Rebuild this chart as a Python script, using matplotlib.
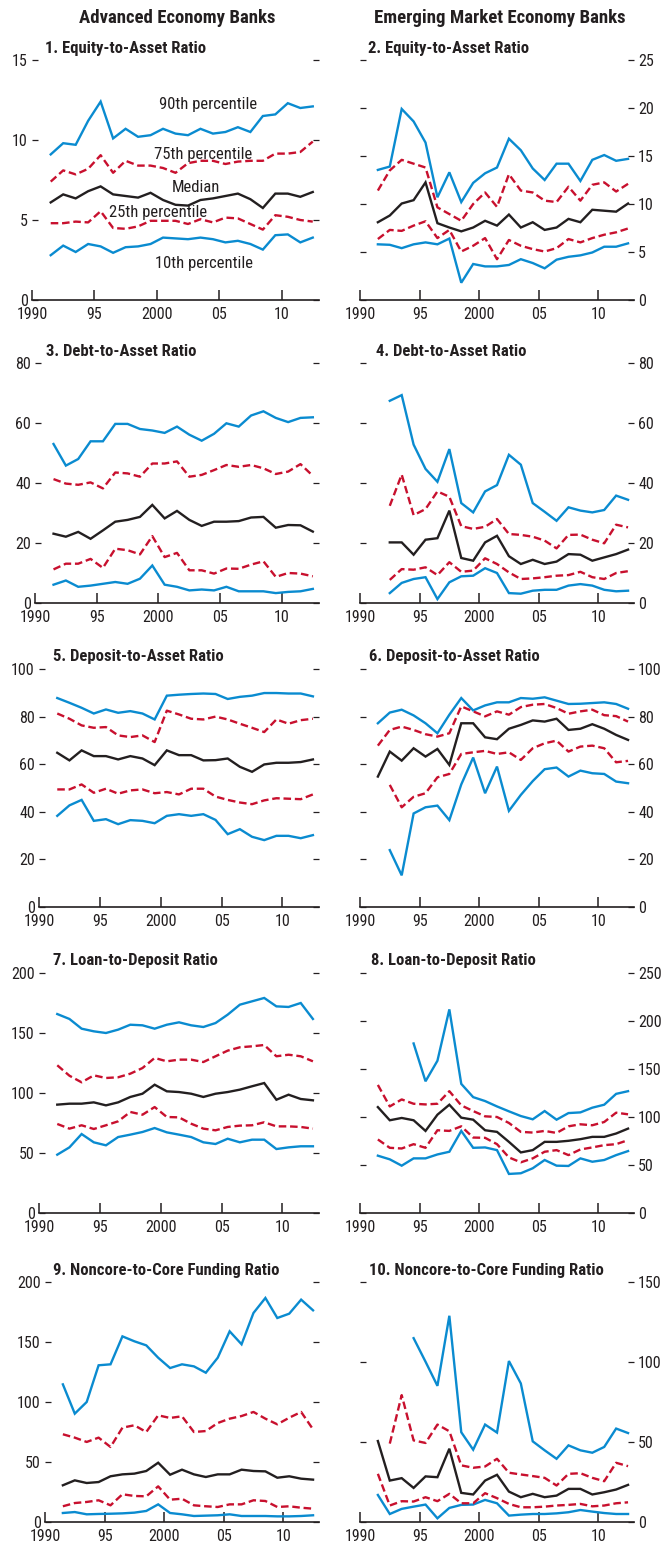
import numpy as np
import matplotlib
matplotlib.use("Agg")
import matplotlib.pyplot as plt
from matplotlib import font_manager as fm

NA = np.nan
years = list(range(1991, 2013))

# ---------------- data ----------------
ae_eq_p90 = [9.1, 9.8, 9.7, 11.2, 12.4, 10.1, 10.7, 10.2, 10.3, 10.7, 10.4, 10.3, 10.7, 10.4, 10.5, 10.8, 10.5, 11.5, 11.6, 12.3, 12.0, 12.1]
ae_eq_p75 = [7.4, 8.1, 7.85, 8.2, 9.05, 7.95, 8.7, 8.4, 8.4, 8.25, 7.95, 8.55, 8.7, 8.7, 8.5, 8.65, 8.7, 8.7, 9.15, 9.15, 9.25, 9.9]
ae_eq_p50 = [6.1, 6.6, 6.35, 6.8, 7.1, 6.6, 6.5, 6.4, 6.7, 6.25, 5.95, 5.9, 6.25, 6.35, 6.5, 6.65, 6.3, 5.75, 6.65, 6.65, 6.45, 6.75]
ae_eq_p25 = [4.8, 4.8, 4.9, 4.85, 5.55, 4.5, 4.45, 4.6, 4.95, 4.95, 4.95, 4.75, 5.05, 4.85, 5.15, 5.1, 4.75, 4.4, 5.3, 5.2, 5.0, 4.9]
ae_eq_p10 = [2.8, 3.4, 3.0, 3.5, 3.35, 2.95, 3.3, 3.35, 3.5, 3.9, 3.85, 3.8, 3.9, 3.8, 3.6, 3.7, 3.5, 3.15, 4.05, 4.1, 3.6, 3.9]

em_eq_p90 = [13.55, 13.9, 19.9, 18.6, 16.4, 10.7, 13.3, 10.2, 12.2, 13.2, 13.8, 16.8, 15.6, 13.7, 12.5, 14.2, 14.2, 12.4, 14.6, 15.1, 14.5, 14.7]
em_eq_p75 = [11.4, 13.5, 14.6, 14.2, 13.8, 9.65, 8.95, 8.25, 10.0, 11.2, 9.7, 13.1, 11.4, 11.2, 10.35, 10.2, 11.8, 10.35, 12.0, 12.25, 11.3, 12.1]
em_eq_p50 = [8.1, 8.8, 10.05, 10.4, 12.25, 8.0, 7.55, 7.15, 7.55, 8.25, 7.75, 8.9, 7.55, 8.1, 7.3, 7.55, 8.45, 8.1, 9.4, 9.3, 9.2, 10.05]
em_eq_p25 = [6.35, 7.3, 7.2, 7.75, 8.2, 6.45, 7.3, 5.05, 5.65, 6.45, 4.25, 6.25, 5.65, 5.3, 5.05, 5.4, 6.35, 6.0, 6.45, 6.8, 7.05, 7.45]
em_eq_p10 = [5.8, 5.75, 5.4, 5.8, 6.0, 5.8, 6.4, 1.8, 3.75, 3.5, 3.5, 3.65, 4.25, 3.85, 3.3, 4.2, 4.5, 4.65, 4.95, 5.55, 5.55, 5.9]

ae_debt_p90 = [53.0, 45.8, 48.0, 53.9, 53.9, 59.7, 59.7, 58.0, 57.5, 56.7, 58.8, 56.1, 54.1, 56.4, 59.9, 58.8, 62.5, 63.9, 61.7, 60.3, 61.7, 61.9]
ae_debt_p75 = [41.3, 39.8, 39.4, 40.2, 38.2, 43.5, 43.2, 42.1, 46.5, 46.5, 47.2, 42.1, 42.7, 44.3, 46.0, 45.4, 46.0, 44.9, 43.0, 43.8, 46.3, 42.4]
ae_debt_p50 = [23.1, 22.1, 23.7, 21.4, 24.2, 27.1, 27.7, 28.7, 32.7, 28.2, 30.7, 27.7, 25.7, 27.1, 27.1, 27.3, 28.5, 28.7, 25.1, 26.0, 25.9, 23.8]
ae_debt_p25 = [11.2, 13.1, 13.1, 14.7, 11.7, 18.1, 17.6, 16.2, 22.3, 15.3, 16.7, 10.9, 10.9, 9.8, 11.5, 11.4, 12.8, 13.9, 8.7, 10.0, 9.8, 8.9]
ae_debt_p10 = [6.1, 7.5, 5.4, 5.8, 6.4, 7.0, 6.4, 8.1, 12.5, 6.1, 5.4, 4.2, 4.5, 4.2, 5.4, 3.9, 3.9, 3.9, 3.3, 3.7, 3.9, 4.7]

em_debt_p90 = [NA, 67.4, 69.3, 52.8, 44.7, 40.4, 51.3, 33.3, 30.2, 37.2, 39.3, 49.4, 46.1, 33.3, 30.4, 27.4, 31.9, 30.8, 30.2, 31.0, 35.8, 34.4]
em_debt_p75 = [NA, 32.4, 42.8, 29.3, 31.3, 37.2, 35.4, 25.6, 24.7, 25.4, 28.0, 23.0, 22.7, 22.1, 20.8, 18.2, 22.7, 22.8, 21.1, 19.9, 26.1, 25.2]
em_debt_p50 = [NA, 20.2, 20.2, 16.1, 21.1, 21.6, 30.8, 15.0, 14.1, 20.2, 22.4, 15.6, 13.0, 14.4, 13.0, 13.8, 16.3, 16.1, 14.1, 15.2, 16.3, 17.8]
em_debt_p25 = [NA, 7.7, 11.3, 11.1, 11.9, 9.3, 13.6, 10.4, 10.8, 14.9, 13.0, 10.2, 8.0, 8.2, 8.6, 9.1, 9.3, 10.4, 8.6, 8.0, 10.0, 10.6]
em_debt_p10 = [NA, 3.3, 6.7, 8.0, 8.6, 1.3, 6.9, 8.9, 9.1, 11.6, 10.0, 3.3, 3.1, 4.1, 4.4, 4.4, 5.8, 6.3, 5.8, 4.4, 3.9, 4.1]

ae_dep_p90 = [87.8, 85.8, 83.7, 81.3, 83.0, 81.6, 82.3, 81.3, 78.8, 88.8, 89.2, 89.5, 89.7, 89.5, 87.4, 88.3, 88.8, 89.9, 89.9, 89.7, 89.7, 88.5]
ae_dep_p75 = [81.3, 79.1, 76.3, 75.3, 75.6, 72.1, 71.4, 72.1, 69.3, 82.5, 80.9, 79.1, 78.8, 80.0, 78.8, 77.0, 75.3, 73.5, 78.8, 77.0, 78.5, 79.1]
ae_dep_p50 = [64.8, 61.6, 65.8, 63.4, 63.4, 62.0, 63.4, 62.4, 59.6, 65.8, 63.8, 63.8, 61.6, 61.7, 62.4, 58.9, 56.8, 59.9, 60.6, 60.6, 60.9, 62.0]
ae_dep_p25 = [49.4, 49.4, 51.5, 48.0, 49.7, 47.6, 49.0, 49.4, 47.8, 48.3, 47.3, 49.7, 49.7, 46.4, 45.0, 43.9, 43.2, 44.8, 45.7, 45.5, 45.3, 47.3]
ae_dep_p10 = [38.3, 42.7, 45.0, 36.2, 36.9, 34.8, 36.5, 36.2, 35.2, 38.3, 39.0, 38.3, 39.0, 36.6, 30.6, 32.7, 29.5, 28.1, 29.9, 29.9, 28.9, 30.2]

em_dep_p90 = [77.2, 81.7, 82.9, 80.5, 77.2, 73.0, 80.8, 87.8, 82.6, 84.7, 86.0, 86.0, 87.8, 87.5, 88.1, 86.7, 85.3, 85.4, 85.7, 86.0, 85.3, 83.3]
em_dep_p75 = [67.8, 74.4, 75.8, 74.4, 72.6, 71.6, 73.0, 84.3, 82.2, 80.1, 82.2, 80.8, 84.0, 85.0, 85.3, 83.6, 81.2, 82.2, 82.9, 80.6, 80.2, 77.9]
em_dep_p50 = [54.8, 65.3, 61.5, 66.7, 63.2, 66.4, 59.7, 77.2, 77.2, 71.3, 70.5, 74.9, 76.5, 78.4, 77.9, 79.1, 74.4, 74.9, 76.8, 74.9, 72.3, 70.2]
em_dep_p25 = [NA, 51.3, 41.9, 46.3, 47.8, 54.5, 55.9, 64.3, 65.0, 65.6, 64.3, 65.0, 61.8, 66.7, 68.8, 69.9, 65.3, 67.4, 67.8, 66.7, 60.8, 61.4]
em_dep_p10 = [NA, 23.9, 13.3, 39.3, 41.9, 42.6, 36.5, 51.5, 62.8, 47.8, 59.0, 40.4, 47.1, 52.9, 57.9, 58.6, 54.8, 57.3, 56.2, 55.9, 52.7, 52.0]

ae_ltd_p90 = [165.8, 161.7, 153.6, 151.4, 150.0, 152.8, 156.9, 156.4, 153.6, 156.9, 158.9, 156.4, 155.0, 158.3, 165.3, 173.6, 176.4, 179.2, 172.2, 171.7, 175.0, 161.7]
ae_ltd_p75 = [123.1, 114.4, 108.9, 114.7, 112.5, 113.1, 116.1, 120.8, 129.2, 126.4, 127.8, 127.8, 125.8, 130.6, 135.3, 138.1, 138.9, 140.0, 130.6, 131.9, 130.6, 126.4]
ae_ltd_p50 = [90.3, 91.1, 91.1, 92.2, 89.7, 92.2, 96.7, 99.4, 106.9, 101.4, 100.8, 99.4, 96.7, 99.4, 100.8, 102.8, 105.6, 108.3, 94.4, 98.6, 95.0, 93.9]
ae_ltd_p25 = [74.2, 70.3, 73.1, 70.0, 73.1, 76.4, 84.2, 81.9, 88.3, 80.0, 79.7, 74.4, 70.3, 68.9, 71.7, 72.8, 73.1, 75.6, 72.2, 72.2, 71.7, 70.3]
ae_ltd_p10 = [48.6, 54.7, 65.8, 58.9, 56.4, 63.3, 65.3, 67.5, 70.8, 67.2, 65.3, 63.3, 58.9, 57.5, 61.9, 58.9, 61.1, 61.1, 53.3, 54.7, 55.6, 55.6]

em_ltd_p90 = [NA, NA, NA, 176.6, 137.2, 158.6, 212.1, 134.5, 120.7, 116.6, 111.0, 105.9, 101.0, 97.6, 106.2, 97.2, 104.1, 104.8, 109.7, 112.8, 124.1, 126.9]
em_ltd_p75 = [133.4, 111.0, 118.3, 113.8, 113.1, 113.8, 126.9, 112.1, 106.2, 100.7, 100.0, 93.8, 84.5, 83.8, 85.5, 83.4, 90.3, 92.4, 91.4, 94.8, 104.5, 102.8]
em_ltd_p50 = [110.3, 96.6, 99.0, 96.6, 85.5, 102.4, 112.8, 99.3, 97.2, 86.2, 84.5, 74.1, 63.1, 65.5, 74.1, 74.1, 75.2, 76.9, 79.3, 79.3, 82.8, 87.9]
em_ltd_p25 = [76.6, 67.9, 67.2, 71.7, 67.9, 86.2, 85.5, 90.3, 78.6, 78.3, 71.7, 57.9, 52.8, 56.9, 63.8, 65.5, 60.3, 66.2, 68.3, 70.7, 71.7, 75.9]
em_ltd_p10 = [59.7, 55.9, 49.3, 56.9, 56.9, 61.0, 63.8, 85.5, 67.9, 68.3, 65.5, 40.7, 41.4, 46.6, 55.2, 49.3, 49.0, 56.9, 53.4, 55.2, 60.3, 64.5]

ae_nc_p90 = [114.7, 90.3, 100.0, 130.6, 131.4, 154.7, 150.6, 147.2, 136.9, 128.3, 131.4, 129.7, 124.4, 136.9, 158.9, 148.1, 174.2, 186.7, 170.0, 173.6, 185.3, 176.4]
ae_nc_p75 = [73.1, 70.3, 66.7, 70.3, 62.5, 78.6, 80.6, 75.0, 88.9, 86.7, 88.1, 75.0, 75.8, 82.5, 86.1, 88.3, 91.7, 86.1, 81.4, 86.9, 91.7, 77.2]
ae_nc_p50 = [30.6, 34.7, 32.5, 33.3, 38.1, 39.7, 40.3, 42.5, 49.4, 39.4, 43.6, 39.7, 37.5, 39.7, 39.7, 43.6, 42.5, 42.2, 36.9, 38.1, 36.1, 35.3]
ae_nc_p25 = [13.1, 15.8, 16.7, 18.1, 13.9, 23.1, 21.7, 21.4, 29.7, 18.6, 19.4, 13.9, 13.1, 12.5, 14.7, 14.7, 18.1, 17.5, 12.5, 13.1, 11.9, 11.1]
ae_nc_p10 = [7.5, 8.3, 6.4, 6.7, 6.9, 7.2, 7.8, 9.2, 14.7, 7.5, 6.4, 5.0, 5.3, 5.6, 6.4, 5.0, 5.0, 5.0, 4.7, 4.7, 5.0, 5.6]

em_nc_p90 = [NA, NA, NA, 114.9, 100.2, 85.1, 128.9, 56.1, 45.2, 60.9, 55.9, 100.6, 86.6, 50.4, 44.8, 39.5, 47.9, 44.8, 43.3, 46.9, 58.4, 55.6]
em_nc_p75 = [NA, 49.0, 79.3, 51.0, 49.4, 60.9, 56.7, 35.4, 33.9, 34.7, 39.5, 30.8, 29.7, 28.7, 27.6, 22.8, 30.1, 30.5, 27.6, 25.5, 37.0, 34.9]
em_nc_p50 = [50.6, 25.9, 27.4, 21.3, 28.5, 28.0, 45.8, 18.2, 17.2, 25.9, 29.5, 19.0, 15.5, 17.6, 15.5, 16.5, 20.7, 20.7, 17.2, 18.6, 20.3, 23.2]
em_nc_p25 = [30.1, 10.3, 13.0, 12.8, 15.5, 13.0, 17.6, 11.7, 11.7, 18.0, 14.9, 11.3, 9.2, 9.2, 9.6, 10.3, 10.7, 11.3, 9.8, 10.3, 11.7, 12.3]
em_nc_p10 = [16.9, 5.0, 8.2, 9.6, 10.9, 2.3, 8.8, 10.7, 10.9, 13.8, 11.7, 4.0, 4.6, 5.0, 5.0, 5.4, 6.1, 7.5, 6.5, 5.6, 5.0, 5.0]

titles = ["1. Equity-to-Asset Ratio", "2. Equity-to-Asset Ratio",
          "3. Debt-to-Asset Ratio", "4. Debt-to-Asset Ratio",
          "5. Deposit-to-Asset Ratio", "6. Deposit-to-Asset Ratio",
          "7. Loan-to-Deposit Ratio", "8. Loan-to-Deposit Ratio",
          "9. Noncore-to-Core Funding Ratio", "10. Noncore-to-Core Funding Ratio"]
col_headers = ["Advanced Economy Banks", "Emerging Market Economy Banks"]
xtick_vals = [1990, 1995, 2000, 2005, 2010]
xtick_labels = ["1990", "95", "2000", "05", "10"]
pct_labels = ["90th percentile", "75th percentile", "Median", "25th percentile", "10th percentile"]

panels = [
    (ae_eq_p90, ae_eq_p75, ae_eq_p50, ae_eq_p25, ae_eq_p10, 15, 5),
    (em_eq_p90, em_eq_p75, em_eq_p50, em_eq_p25, em_eq_p10, 25, 5),
    (ae_debt_p90, ae_debt_p75, ae_debt_p50, ae_debt_p25, ae_debt_p10, 80, 20),
    (em_debt_p90, em_debt_p75, em_debt_p50, em_debt_p25, em_debt_p10, 80, 20),
    (ae_dep_p90, ae_dep_p75, ae_dep_p50, ae_dep_p25, ae_dep_p10, 100, 20),
    (em_dep_p90, em_dep_p75, em_dep_p50, em_dep_p25, em_dep_p10, 100, 20),
    (ae_ltd_p90, ae_ltd_p75, ae_ltd_p50, ae_ltd_p25, ae_ltd_p10, 200, 50),
    (em_ltd_p90, em_ltd_p75, em_ltd_p50, em_ltd_p25, em_ltd_p10, 250, 50),
    (ae_nc_p90, ae_nc_p75, ae_nc_p50, ae_nc_p25, ae_nc_p10, 200, 50),
    (em_nc_p90, em_nc_p75, em_nc_p50, em_nc_p25, em_nc_p10, 150, 50),
]

# ---------------- fonts ----------------
names = {f.name for f in fm.fontManager.ttflist}
FONT = "DejaVu Sans"
STRETCH = "normal"
for cand in ["Liberation Sans Narrow", "Roboto Condensed", "Open Sans Condensed"]:
    if cand in names:
        FONT = cand
        break
else:
    if any(f.name == "DejaVu Sans" and f.stretch == "condensed" for f in fm.fontManager.ttflist):
        STRETCH = "condensed"
plt.rcParams["font.family"] = [FONT, "DejaVu Sans"]
plt.rcParams["font.stretch"] = STRETCH

BLUE = "#0a8bd0"
RED = "#c8102e"
BLACK = "#231f20"
TXT = "#231f20"
TICKSIZE = 11.5

W, H = 661, 1551
fig = plt.figure(figsize=(W / 100, H / 100), dpi=100)
fig.patch.set_facecolor("white")

rows_px = [(60, 300), (363, 603), (669, 907), (973, 1213), (1282, 1522)]
left_lefts = [32, 35, 39, 39, 45]
title_x = [[45, 368], [46, 376], [53, 369], [53, 371], [53, 369]]

LW = 1.7
for k, (p90, p75, p50, p25, p10, ytop, ystep) in enumerate(panels):
    row, col = divmod(k, 2)
    top, bot = rows_px[row]
    if col == 0:
        l, r = left_lefts[row], 319
    else:
        l, r = 360, 634
    ax = fig.add_axes([l / W, 1 - bot / H, (r - l) / W, (bot - top) / H])
    x = np.array(years) + 0.5
    ax.plot(x, p90, color=BLUE, lw=LW, solid_joinstyle="miter", zorder=3)
    ax.plot(x, p10, color=BLUE, lw=LW, solid_joinstyle="miter", zorder=3)
    ax.plot(x, p75, color=RED, lw=LW, dashes=(3.2, 1.6), zorder=4)
    ax.plot(x, p25, color=RED, lw=LW, dashes=(3.2, 1.6), zorder=4)
    ax.plot(x, p50, color=BLACK, lw=LW, solid_joinstyle="miter", zorder=5)
    ax.set_xlim(1990, 2013)
    ax.set_ylim(0, ytop)
    ax.set_xticks(xtick_vals)
    ax.set_xticklabels(xtick_labels)
    yt = np.arange(0, ytop + 0.1, ystep)
    ax.set_yticks(yt)
    ax.set_yticklabels([f"{int(v)}" for v in yt])
    for s in ["left", "right", "top"]:
        ax.spines[s].set_visible(False)
    ax.spines["bottom"].set_linewidth(1.2)
    ax.spines["bottom"].set_color(BLACK)
    ax.tick_params(axis="x", direction="in", length=7, width=1.1, pad=5,
                   labelsize=TICKSIZE, colors=TXT)
    ax.tick_params(axis="y", direction="in", length=4, width=0.9,
                   pad=3,
                   left=True, right=True, labelleft=(col == 0),
                   labelright=(col == 1), labelsize=TICKSIZE, colors=TXT)
    ax.set_facecolor("none")
    tx = title_x[row][col]
    fig.text(tx / W, 1 - (top - 12) / H, titles[k], fontsize=12, fontweight="bold",
             color=TXT, ha="left", va="center")
    if k == 0:
        lab_pos = [(2004.1, 12.2), (2003.7, 9.1), (2003.1, 7.06), (2000.1, 5.5), (2003.8, 2.3)]
        for (lx, ly), txt in zip(lab_pos, pct_labels):
            ax.text(lx, ly, txt, fontsize=12, color=TXT, ha="center", va="center", zorder=6)

fig.text(177 / W, 1 - 18 / H, col_headers[0], fontsize=13.5, fontweight="bold",
         color=TXT, ha="center", va="center")
fig.text(500 / W, 1 - 18 / H, col_headers[1], fontsize=13.5, fontweight="bold",
         color=TXT, ha="center", va="center")

fig.savefig("out.png", dpi=100, facecolor="white")
